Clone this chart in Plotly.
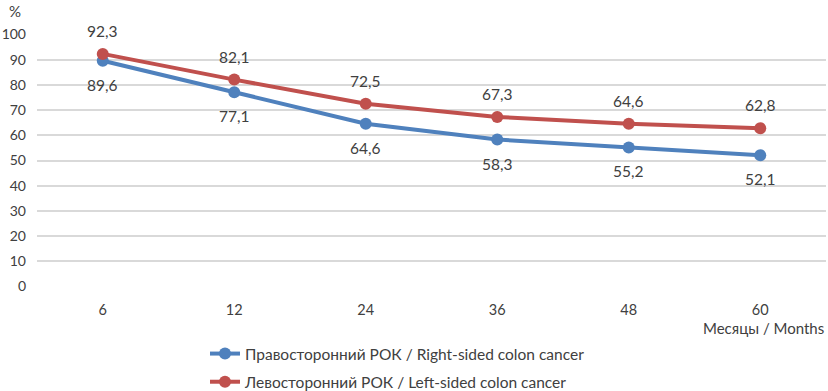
import plotly.graph_objects as go

months = ["6", "12", "24", "36", "48", "60"]
right_sided = [89.6, 77.1, 64.6, 58.3, 55.2, 52.1]
left_sided = [92.3, 82.1, 72.5, 67.3, 64.6, 62.8]
y_ticks = [0, 10, 20, 30, 40, 50, 60, 70, 80, 90, 100]

name_right = "Правосторонний РОК / Right-sided colon cancer"
name_left = "Левосторонний РОК / Left-sided colon cancer"

BLUE = "#4F81BD"
RED = "#C0504D"
TXT = "#404040"
FONT = "Lato"

fig = go.Figure()
fig.add_trace(go.Scatter(x=months, y=right_sided, mode="lines+markers", name=name_right,
                         line=dict(color=BLUE, width=4), marker=dict(size=12, color=BLUE),
                         cliponaxis=False, legendgroup="a"))
fig.add_trace(go.Scatter(x=months, y=left_sided, mode="lines+markers", name=name_left,
                         line=dict(color=RED, width=4), marker=dict(size=12, color=RED),
                         cliponaxis=False, legendgroup="b"))

def fmt(v):
    return f"{v:.1f}".replace(".", ",")

# category axis: annotation x given as category index
for i, v in enumerate(right_sided):
    fig.add_annotation(x=i, y=v, text=fmt(v), showarrow=False, yshift=-24,
                       font=dict(family=FONT, size=15.5, color=TXT))
for i, v in enumerate(left_sided):
    fig.add_annotation(x=i, y=v, text=fmt(v), showarrow=False, yshift=23,
                       font=dict(family=FONT, size=15.5, color=TXT))

fig.add_annotation(xref="paper", yref="paper", x=1.0, y=-0.162, xanchor="right", yanchor="middle",
                   text="Месяцы / Months", showarrow=False,
                   font=dict(family=FONT, size=15, color=TXT))
fig.add_annotation(xref="paper", yref="paper", x=-0.028, y=1.09, xanchor="center", yanchor="middle",
                   text="%", showarrow=False, font=dict(family=FONT, size=15, color=TXT))

fig.update_layout(
    width=828, height=391,
    margin=dict(l=37, r=2, t=34, b=104, autoexpand=False),
    paper_bgcolor="white", plot_bgcolor="white",
    font=dict(family=FONT, size=14, color=TXT),
    showlegend=True,
    legend=dict(xref="paper", yref="paper", x=(205-37)/789, y=(287-337)/253,
                xanchor="left", yanchor="top", traceorder="grouped", tracegroupgap=5,
                font=dict(family=FONT, size=15.5, color=TXT), bgcolor="rgba(0,0,0,0)"),
    xaxis=dict(type="category", range=[-0.5, 5.5], showgrid=False, zeroline=False,
               showline=False, ticks="", tickfont=dict(family=FONT, size=14.5, color=TXT),
               ticklabelstandoff=12),
    yaxis=dict(range=[-0.2, 100.2], tickvals=y_ticks, showgrid=True, gridcolor="#D9D9D9",
               gridwidth=2, zeroline=False, showline=False, ticks="",
               tickfont=dict(family=FONT, size=14, color=TXT), ticklabelstandoff=10),
)

fig.write_html("out.html", config={"displayModeBar": False},
               post_script="document.body.style.margin='0px';")
